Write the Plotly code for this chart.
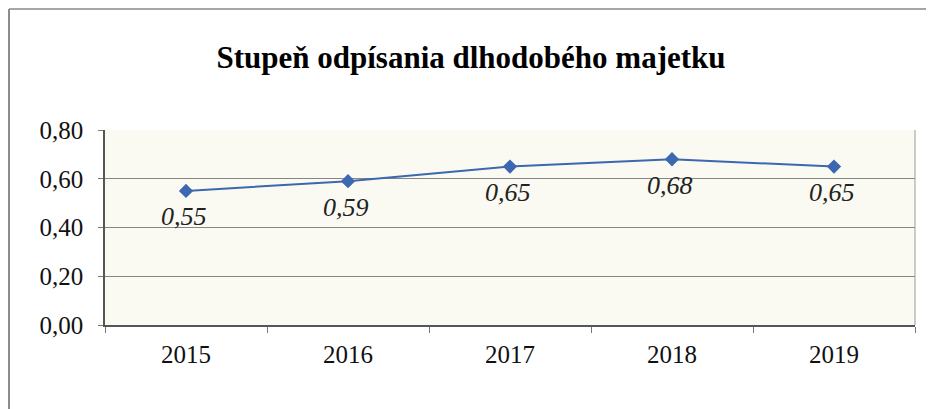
import plotly.graph_objects as go

years = ["2015", "2016", "2017", "2018", "2019"]
values = [0.55, 0.59, 0.65, 0.68, 0.65]
labels = ["0,55", "0,59", "0,65", "0,68", "0,65"]
y_ticks = [0.0, 0.2, 0.4, 0.6, 0.8]
y_tick_labels = ["0,00", "0,20", "0,40", "0,60", "0,80"]
title = "Stupeň odpísania dlhodobého majetku"

fig = go.Figure()
fig.add_trace(go.Scatter(
    x=years, y=values, mode="lines+markers",
    line=dict(color="#3b68b0", width=2),
    marker=dict(symbol="diamond", size=11, color="#3b68b0"),
    cliponaxis=False, showlegend=False,
))
for i, (yv, lab) in enumerate(zip(values, labels)):
    fig.add_annotation(
        x=i, y=yv, xref="x", yref="y", text="<i>" + lab + "</i>",
        showarrow=False, yshift=-26, xshift=-2,
        font=dict(family="Liberation Serif", size=26, color="#222"),
    )

fig.update_layout(
    width=926, height=401,
    margin=dict(l=97, r=19, t=122, b=84),
    paper_bgcolor="white",
    plot_bgcolor="#fbfaf2",
    title=dict(text="<b>" + title + "</b>", x=0.5, xanchor="center",
               y=0.878, yanchor="middle",
               font=dict(family="Liberation Serif", size=31, color="black")),
    font=dict(family="Liberation Serif", size=25, color="black"),
)
fig.update_xaxes(
    type="category", tickmode="array", tickvals=years, ticktext=years,
    showgrid=False, showline=True, linecolor="#555", linewidth=1.5,
    mirror=False, ticks="outside", ticklen=6, tickcolor="#777",
    tickson="boundaries", range=[-0.5, 4.5], ticklabelstandoff=6,
    tickfont=dict(family="Liberation Serif", size=25, color="#111"),
)
fig.update_yaxes(
    range=[0, 0.8], tickvals=y_ticks, ticktext=y_tick_labels,
    showgrid=True, gridcolor="#858585", gridwidth=1,
    showline=True, linecolor="#555", linewidth=1.5, mirror=False,
    ticks="outside", ticklen=5, tickcolor="#777", ticklabelstandoff=10,
    zeroline=False,
    tickfont=dict(family="Liberation Serif", size=25, color="#111"),
)
# right plot edge
fig.add_shape(type="line", xref="paper", yref="paper", x0=1, x1=1, y0=0, y1=1,
              line=dict(color="#999", width=1))
# outer frame (left and top)
fig.add_shape(type="line", xref="paper", yref="paper",
              x0=-0.1185, x1=-0.1185, y0=-0.44, y1=1.62,
              line=dict(color="#666", width=1.5))
fig.add_shape(type="line", xref="paper", yref="paper",
              x0=-0.1185, x1=1.03, y0=1.62, y1=1.62,
              line=dict(color="#888", width=1.5))

fig.write_html("out.html")
